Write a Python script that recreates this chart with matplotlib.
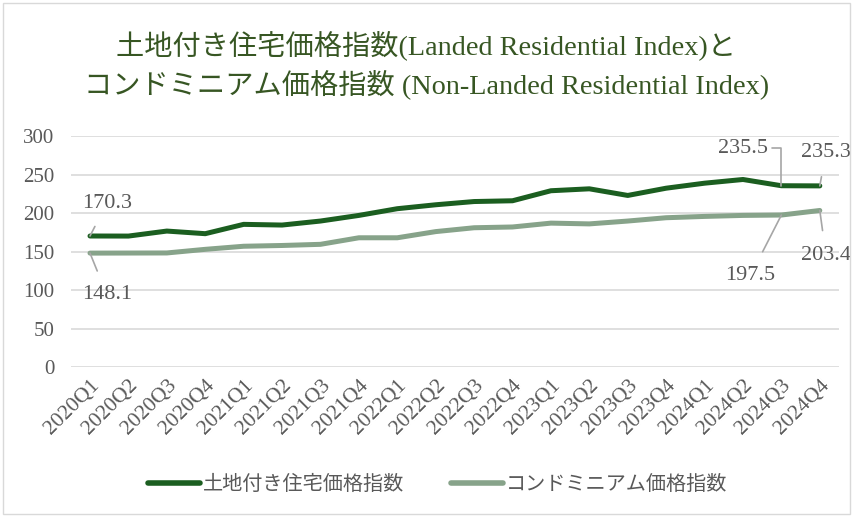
import matplotlib
matplotlib.use("Agg")
import matplotlib.pyplot as plt
from matplotlib.patches import Rectangle

quarters = ["2020Q1", "2020Q2", "2020Q3", "2020Q4", "2021Q1", "2021Q2", "2021Q3", "2021Q4",
            "2022Q1", "2022Q2", "2022Q3", "2022Q4", "2023Q1", "2023Q2", "2023Q3", "2023Q4",
            "2024Q1", "2024Q2", "2024Q3", "2024Q4"]
landed = [170.3, 170.2, 176.7, 173.3, 185.4, 184.5, 189.7, 197.0, 205.7, 210.8,
          215.0, 216.0, 229.0, 231.5, 222.9, 232.3, 238.8, 243.6, 235.5, 235.3]
condo = [148.1, 148.2, 148.3, 153.0, 157.0, 158.0, 159.5, 168.0, 168.0, 176.0,
         181.0, 182.0, 187.0, 186.0, 189.7, 194.0, 195.7, 197.0, 197.5, 203.4]
name_landed = "土地付き住宅価格指数"
name_condo = "コンドミニアム価格指数"
title_line1 = "土地付き住宅価格指数(Landed Residential Index)と"
title_line2 = "コンドミニアム価格指数 (Non-Landed Residential Index)"
yticks = [0, 50, 100, 150, 200, 250, 300]

FONTS = ["Liberation Serif", "Noto Sans CJK JP"]
plt.rcParams['font.family'] = FONTS

W, H = 853, 516
fig = plt.figure(figsize=(W / 100, H / 100), dpi=100)
fig.patches.append(Rectangle((3 / W, 2 / H), 1 - 6 / W, 1 - 5 / H, transform=fig.transFigure,
                             fill=False, edgecolor="#d9d9d9", linewidth=1.0))

left, right, top, bottom = 70.8, 839, 136, 367.3
ax = fig.add_axes([left / W, 1 - bottom / H, (right - left) / W, (bottom - top) / H])

dark = "#1b5e20"
light = "#87a38a"
x = list(range(len(quarters)))
ax.plot(x, landed, color=dark, lw=3.6, solid_capstyle="round", solid_joinstyle="round", label=name_landed, zorder=3)
ax.plot(x, condo, color=light, lw=3.6, solid_capstyle="round", solid_joinstyle="round", label=name_condo, zorder=3)

ax.set_xlim(-0.5, len(quarters) - 0.5)
ax.set_ylim(0, 300)
ax.set_yticks(yticks)
ax.set_yticklabels([str(v) for v in yticks], fontsize=15, color="#595959")
ax.set_xticks(x)
ax.set_xticklabels(quarters, rotation=45, ha="right", va="top", rotation_mode="anchor",
                   fontsize=15.5, color="#595959")
ax.tick_params(axis="y", length=0, pad=12)
ax.tick_params(axis="x", length=0, pad=6)
ax.grid(axis="y", color="#d9d9d9", lw=1.2)
ax.set_axisbelow(True)
for s in ax.spines.values():
    s.set_visible(False)

lc = "#a6a6a6"
tc = "#595959"
fs = 16
def ann(i, val, series_val, tx, ty, elbow=False, shrink=9):
    ax.annotate(f"{val}", xy=(i, series_val), xytext=(tx, ty), textcoords="data",
                fontsize=fs, color=tc, ha="center", va="center",
                arrowprops=dict(arrowstyle="-", color=lc, lw=1.2, shrinkA=shrink, shrinkB=0,
                                connectionstyle="angle,angleA=0,angleB=90,rad=0" if elbow else "arc3"),
                zorder=4)

ann(0, landed[0], landed[0], 0.44, 213)
ann(0, condo[0], condo[0], 0.44, 94)
ann(18, landed[18], landed[18], 17.0, 284, elbow=True, shrink=1)
ann(19, landed[19], landed[19], 19.16, 279)
ann(18, condo[18], condo[18], 17.2, 119.5)
ann(19, condo[19], condo[19], 19.16, 145.4)

fig.text(0.5, 1 - 46 / H, title_line1, ha="center", va="center", fontsize=20.3, color="#375623",
         family=FONTS)
fig.text(0.5, 1 - 85 / H, title_line2, ha="center", va="center", fontsize=20.3, color="#375623",
         family=FONTS)

leg = fig.legend(loc="center", bbox_to_anchor=(0.5 + 11 / W, 1 - 485 / H), ncol=2, frameon=False,
                 fontsize=14.5, handlelength=2.6, columnspacing=2.3, handletextpad=0.15)
for t in leg.get_texts():
    t.set_color(tc)
for l in leg.get_lines():
    l.set_linewidth(4)

fig.savefig("out.png", dpi=100)
